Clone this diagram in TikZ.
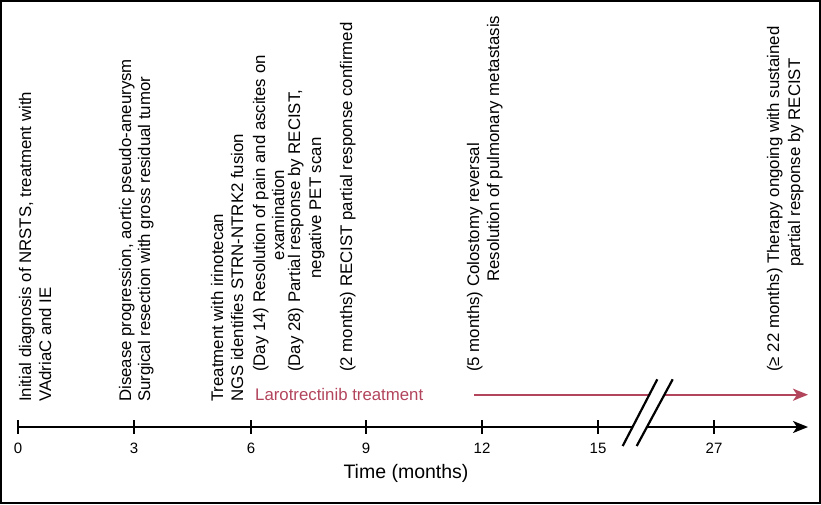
\documentclass[tikz,border=0pt]{standalone}
\usepackage{fontspec}
\setmainfont{Liberation Sans}
\usetikzlibrary{arrows.meta}
\definecolor{larored}{RGB}{178,68,92}
\begin{document}
\begin{tikzpicture}[x=1pt,y=-1pt,
  evtext/.style={rotate=90,inner sep=0pt,font=\fontsize{16.8}{20}\selectfont},
  ticklab/.style={inner sep=0pt,anchor=base,font=\fontsize{15}{18}\selectfont},
  axisline/.style={line width=2pt},
  tickmark/.style={line width=2pt},
  breakline/.style={line width=2.2pt},
  tip/.style={-{Stealth[length=15pt,width=12pt,inset=4pt]}}]
\useasboundingbox (0,0) rectangle (821,505);
\draw[line width=2pt] (1,1) rectangle (819.5,503);

% axis
\coordinate (a0) at (18,427);
\coordinate (aend) at (808,427);
\draw[axisline,tip] (a0) -- (aend);
% treatment arrow
\coordinate (r0) at (474,394.7);
\coordinate (rend) at (808,394.7);
\draw[axisline,larored,tip] (r0) -- (rend);

% ticks
\foreach \x/\l in {18/0,134/3,251/6,366/9,482/12,598/15,714/27}{
  \draw[tickmark] (\x,420) -- (\x,434);
  \node[ticklab] at (\x,453) {\l};
}

% break
\coordinate (b1s) at (622.7,446);
\coordinate (b1e) at (657.3,379.3);
\coordinate (b2s) at (636.7,446);
\coordinate (b2e) at (672.7,379.3);
\fill[white] (b1s) -- (b1e) -- (b2e) -- (b2s) -- cycle;
\draw[breakline] (b1s) -- (b1e);
\draw[breakline] (b2s) -- (b2e);

\node[inner sep=0pt,anchor=base,font=\fontsize{19.5}{22}\selectfont] (xlab) at (406,478) {Time (months)};
\node[inner sep=0pt,anchor=base west,text=larored,font=\fontsize{16.8}{20}\selectfont] (lt) at (255,400) {Larotrectinib treatment};

% events
\node[evtext,anchor=base west] (e1a) at (31,402) {Initial diagnosis of NRSTS, treatment with};
\node[evtext,anchor=base west] (e1b) at (51,402) {VAdriaC and IE};
\node[evtext,anchor=base west] (e2a) at (131,402) {Disease progression, aortic pseudo-aneurysm};
\node[evtext,anchor=base west] (e2b) at (150,402) {Surgical resection with gross residual tumor};
\node[evtext,anchor=base west] (e3a) at (223,402) {Treatment with irinotecan};
\node[evtext,anchor=base west] (e3b) at (243,402) {NGS identifies STRN-NTRK2 fusion};
\node[evtext,anchor=base west] (e4a) at (265,372) {(Day 14) Resolution of pain and ascites on};
\node[evtext,anchor=base] (e4b) at (284,215) {examination};
\node[evtext,anchor=base west] (e5a) at (300,372) {(Day 28) Partial response by RECIST,};
\node[evtext,anchor=base] (e5b) at (321,208) {negative PET scan};
\node[evtext,anchor=base west] (e6a) at (352,372) {(2 months) RECIST partial response confirmed};
\node[evtext,anchor=base west] (e7a) at (479,372) {(5 months) Colostomy reversal};
\node[evtext,anchor=base west] (e7b) at (499,282) {Resolution of pulmonary metastasis};
\node[evtext,anchor=base west] (e8a) at (779,372) {(≥ 22 months) Therapy ongoing with sustained};
\node[evtext,anchor=base west] (e8b) at (800,267) {partial response by RECIST};
\end{tikzpicture}
\end{document}
